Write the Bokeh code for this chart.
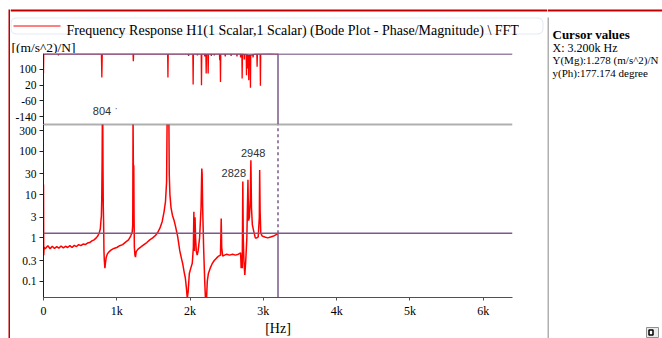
from bokeh.plotting import figure
from bokeh.models import (Range1d, FixedTicker, BasicTickFormatter, Span, Label,
                          BoxAnnotation)
from bokeh.layouts import row, column
from bokeh.embed import file_html
from bokeh.resources import INLINE

# ---------------- data ----------------
mag_freq = [0, 3, 8, 15, 30, 60, 90, 120, 150, 180, 210, 240, 270, 300, 330, 360, 390,
            420, 450, 480, 510, 540, 570, 600, 630, 660, 690, 720, 740, 760, 775, 785,
            790, 795, 800, 804, 808, 812, 816, 820, 825, 830, 838, 845, 855, 870, 890,
            920, 960, 1000, 1040, 1080, 1120, 1160, 1190, 1210, 1218, 1222, 1226, 1232,
            1236, 1240, 1248, 1255, 1265, 1290, 1330, 1370, 1410, 1450, 1490, 1530, 1560,
            1590, 1620, 1645, 1665, 1680, 1688, 1710, 1716, 1725, 1740, 1760, 1780, 1800,
            1830, 1860, 1880, 1900, 1920, 1935, 1950, 1962, 1975, 1990, 2010, 2030, 2045,
            2052, 2058, 2068, 2075, 2085, 2097, 2110, 2130, 2150, 2160, 2165, 2172, 2185,
            2200, 2210, 2225, 2235, 2250, 2275, 2300, 2330, 2360, 2390, 2415, 2425, 2432,
            2445, 2470, 2500, 2540, 2580, 2620, 2660, 2690, 2697, 2705, 2712, 2720, 2726,
            2735, 2747, 2760, 2775, 2790, 2798, 2810, 2822, 2830, 2838, 2850, 2870, 2890,
            2910, 2930, 2945, 2950, 2956, 2965, 2985, 3020, 3060, 3100, 3140, 3180, 3200]
mag_vals = [17, 0.40, 0.62, 0.56, 0.58, 0.66, 0.56, 0.64, 0.57, 0.63, 0.58, 0.65, 0.59,
            0.64, 0.60, 0.66, 0.60, 0.67, 0.63, 0.70, 0.66, 0.72, 0.70, 0.76, 0.78, 0.85,
            0.90, 1.0, 1.1, 1.3, 1.6, 2.6, 3.2, 8, 60, 900, 900, 40, 5, 2.5, 0.5, 0.3, 0.2,
            0.26, 0.35, 0.42, 0.47, 0.52, 0.57, 0.60, 0.66, 0.70, 0.80, 0.90, 1.1, 1.35, 2,
            600, 50, 45, 3, 0.6, 0.4, 0.36, 0.48, 0.55, 0.62, 0.70, 0.78, 0.90, 1.0, 1.15,
            1.35, 1.7, 2.4, 4, 7, 20, 900, 900, 30, 10, 5, 3.3, 2.6, 1.9, 1.1, 0.5, 0.35,
            0.25, 0.16, 0.12, 0.07, 0.04, 0.06, 0.15, 0.2, 0.26, 0.6, 4, 0.5, 3, 1, 0.5,
            0.4, 0.5, 1.0, 5, 40, 30, 5, 0.6, 0.1, 0.04, 0.04, 0.1, 0.15, 0.2, 0.25, 0.3,
            0.34, 0.38, 0.4, 2.8, 0.6, 0.38, 0.4, 0.42, 0.4, 0.42, 0.4, 0.42, 0.45, 0.2,
            0.4, 0.2, 20, 1, 0.3, 0.14, 0.3, 1, 22, 2.5, 3, 8, 62, 5, 2, 1.4, 1.0, 1.0,
            1.05, 3, 37, 4, 1.3, 1.1, 1.05, 1.0, 1.05, 1.1, 1.2, 1.278]

phase_freq = [0, 3, 40,
              200, 205, 210, 790, 796, 802, 1222, 1226, 1230, 1694, 1698, 1702,
              1975, 1980, 1985, 2038, 2042, 2046, 2096, 2100, 2104, 2152, 2156, 2160,
              2196, 2200, 2204, 2216, 2220, 2224, 2243, 2247, 2251, 2286, 2290, 2294,
              2326, 2330, 2334, 2401, 2405, 2409, 2411, 2415, 2419, 2476, 2480, 2484,
              2556, 2560, 2564, 2636, 2640, 2644, 2686, 2690, 2694, 2707, 2711, 2715,
              2736, 2740, 2744, 2766, 2770, 2774, 2783, 2787, 2791, 2797, 2801, 2805,
              2812, 2815, 2818, 2820, 2824, 2828, 2856, 2860, 2864, 2911, 2915, 2919,
              2956, 2960, 2964, 3100, 3200]
phase_vals = [80, 176, 178,
              178, 170, 178, 178, 58, 178, 178, 141, 178, 178, 58, 178,
              178, 168, 178, 178, 23, 178, 178, 170, 178, 178, 19, 178,
              178, 165, 178, 178, 79, 178, 178, 79, 178, 178, 168, 178,
              178, 170, 178, 178, 146, 178, 178, 36, 178, 178, 165, 178,
              178, 168, 178, 178, 165, 178, 178, 160, 178, 178, 53, 178,
              176, 150, 176, 176, 70, 172, 175, 104, 170, 172, 45, 168,
              170, 150, 172, 172, 6, 170, 175, 160, 176, 178, 113, 178,
              178, 16, 178, 179, 177.2]

cursor_x = 3200
cursor_mag = 1.278
cursor_phase = 177.174

x_ticks = [0, 1000, 2000, 3000, 4000, 5000, 6000]
x_tick_labels = ["0", "1k", "2k", "3k", "4k", "5k", "6k"]
mag_ticks = [0.1, 0.3, 1, 3, 10, 30, 100, 300]
mag_tick_labels = ["0.1", "0.3", "1", "3", "10", "30", "100", "300"]
phase_ticks = [100, 20, -60, -140]
phase_tick_labels = ["100", "20", "-60", "-140"]

peak_texts = ["2828", "2948"]
peak_text_x = [2597, 2862]
peak_text_y = [31.4, 93]
phase_peak_text = "804"

legend_text = "Frequency Response H1(1 Scalar,1 Scalar) (Bode Plot - Phase/Magnitude) \\ FFT"
unit_text = "[(m/s^2)/N]"
x_unit_text = "[Hz]"
cursor_lines = ["Cursor values", "X: 3.200k Hz", "Y(Mg):1.278 (m/s^2)/N",
                "y(Ph):177.174 degree"]

# ---------------- styles ----------------
SERIF = "Liberation Serif"
SANS = "Liberation Sans"
RED = "#ff0000"
CUR = "#7a5a8a"
BORDER_RED = "#c00000"
AX = "#202020"
SEP = "#606060"

X_LO, X_HI = 0, 6400
M_LO, M_HI = 0.042, 415
W_L = 537      # width of the plot column
H_TOP = 53     # legend strip height
H_PH = 71      # phase plot height
H_MG = 214     # magnitude plot height (incl. x axis)
W_R = 115      # cursor panel width
W_S = 10       # left border strip width
H_ALL = H_TOP + H_PH + H_MG


def no_align(f):
    try:
        f.frame_align = False
    except Exception:
        pass


def chrome_fig(w, h):
    f = figure(width=w, height=h, x_range=Range1d(0, w), y_range=Range1d(h, 0),
               output_backend="svg", toolbar_location=None, min_border=0,
               x_axis_location=None, y_axis_location=None)
    f.grid.visible = False
    f.outline_line_color = None
    no_align(f)
    return f


def style_axis(ax, size="12px"):
    ax.major_label_text_font = SERIF
    ax.major_label_text_font_size = size
    ax.major_label_text_color = "black"
    ax.axis_line_color = AX
    ax.major_tick_line_color = AX
    ax.major_tick_in = 0
    ax.minor_tick_in = 0
    ax.minor_tick_out = 0


# ---------------- left border strip ----------------
sf = chrome_fig(W_S, H_ALL)
sf.quad(left=[8], right=[10], top=[9], bottom=[H_ALL], fill_color=BORDER_RED, line_alpha=0)

# ---------------- top strip: legend + unit ----------------
tf = chrome_fig(W_L, H_TOP)
tf.quad(left=[0], right=[W_L], top=[9], bottom=[11], fill_color=BORDER_RED, line_alpha=0)
box_kw = dict(left=0.5, right=532.5, top=17.5, bottom=33.5, fill_color="white", fill_alpha=1,
              line_color="#9fb4cf", line_width=1, level="underlay")
try:
    legend_box = BoxAnnotation(border_radius=5, **box_kw)
except Exception:
    legend_box = BoxAnnotation(**box_kw)
tf.add_layout(legend_box)
tf.segment(x0=[3], y0=[25.5], x1=[50], y1=[25.5], line_color=RED, line_width=1.2)
tf.add_layout(Label(x=56, y=30, text=legend_text, text_font=SERIF, text_font_size="14px",
                    text_color="black", text_align="left", text_baseline="alphabetic"))
tf.add_layout(Label(x=1, y=46.5, text=unit_text, text_font=SERIF, text_font_size="13.5px",
                    text_color="black", text_align="left", text_baseline="alphabetic"))

# ---------------- phase plot ----------------
pf = figure(width=W_L, height=H_PH, x_range=Range1d(X_LO, X_HI), y_range=Range1d(-180, 180),
            output_backend="svg", toolbar_location=None, x_axis_location=None,
            min_border_left=33, min_border_right=35, min_border_top=0, min_border_bottom=0)
pf.grid.visible = False
pf.outline_line_color = None
pf.yaxis.ticker = FixedTicker(ticks=phase_ticks)
pf.yaxis.major_label_overrides = dict(zip(phase_ticks, phase_tick_labels))
style_axis(pf.yaxis[0], "11.5px")
pf.yaxis.major_tick_out = 4
pf.yaxis.major_label_standoff = 3

pf.add_layout(Span(location=cursor_phase, dimension="width", line_color=CUR, line_width=1.5))
pf.add_layout(Span(location=cursor_x, dimension="height", line_color=CUR, line_width=1.5))
pf.add_layout(Span(location=-180, dimension="width", line_color=SEP, line_width=1.5))
pf.line(phase_freq, phase_vals, line_color=RED, line_width=1.3)

pf.add_layout(Label(x=798, y=-114, text=phase_peak_text, text_font=SANS, text_font_size="11px",
                    text_color="#303030", text_align="center", text_baseline="middle"))
pf.add_layout(Label(x=990, y=-100, text="\u00b7", text_font=SANS, text_font_size="10px",
                    text_color="#606060", text_align="center", text_baseline="middle"))

# ---------------- magnitude plot ----------------
mf = figure(width=W_L, height=H_MG, x_range=pf.x_range, y_range=Range1d(M_LO, M_HI),
            y_axis_type="log", output_backend="svg", toolbar_location=None,
            min_border_left=33, min_border_right=35, min_border_top=0, min_border_bottom=37)
mf.grid.visible = False
mf.outline_line_color = None
mf.yaxis.ticker = FixedTicker(ticks=mag_ticks)
mf.yaxis.formatter = BasicTickFormatter()
mf.yaxis.major_label_overrides = dict(zip(mag_ticks, mag_tick_labels))
style_axis(mf.yaxis[0], "11.5px")
mf.yaxis.major_tick_out = 4
mf.yaxis.major_label_standoff = 3
mf.xaxis.ticker = FixedTicker(ticks=x_ticks)
mf.xaxis.major_label_overrides = dict(zip(x_ticks, x_tick_labels))
style_axis(mf.xaxis[0])
mf.xaxis.axis_line_color = "#505050"
mf.xaxis.major_tick_line_color = "#505050"
mf.xaxis.major_tick_out = 3
mf.xaxis.major_label_standoff = 3
mf.xaxis.axis_label = x_unit_text
mf.xaxis.axis_label_standoff = 0
mf.xaxis.axis_label_text_font = SERIF
mf.xaxis.axis_label_text_font_size = "14px"
mf.xaxis.axis_label_text_font_style = "normal"
mf.xaxis.axis_label_text_color = "black"

mf.add_layout(Span(location=M_HI, dimension="width", line_color=SEP, line_width=1.5))
mf.add_layout(Span(location=cursor_mag, dimension="width", line_color=CUR, line_width=1.5))
mf.segment(x0=[cursor_x], y0=[M_LO], x1=[cursor_x], y1=[cursor_mag], line_color=CUR,
           line_width=1.5)
mf.segment(x0=[cursor_x], y0=[cursor_mag], x1=[cursor_x], y1=[M_HI], line_color=CUR,
           line_width=1.5, line_dash="3 3")
mf.line(mag_freq, mag_vals, line_color=RED, line_width=1.5)

for t, xx, yy in zip(peak_texts, peak_text_x, peak_text_y):
    mf.add_layout(Label(x=xx, y=yy, text=t, text_font=SANS, text_font_size="11px",
                        text_color="#303030", text_align="center", text_baseline="middle"))

# ---------------- right (cursor values) panel ----------------
rf = chrome_fig(W_R, H_ALL)
rf.quad(left=[0], right=[W_R], top=[9], bottom=[11], fill_color=BORDER_RED, line_alpha=0)
rf.quad(left=[-0.5], right=[1.5], top=[17], bottom=[H_ALL], fill_color="#b0b0b0", line_alpha=0)
rf.quad(left=[99], right=[111], top=[327], bottom=[337], fill_color="#ececec",
        line_color="#909090")
rf.quad(left=[101.5], right=[105.5], top=[329.5], bottom=[334.5], fill_color="white",
        line_color="black", line_width=1.5)
base_y = [33.5, 47.3, 59.8, 72]
sizes = ["13px", "12px", "11px", "11px"]
for i, (txt, yy, sz) in enumerate(zip(cursor_lines, base_y, sizes)):
    rf.add_layout(Label(x=5, y=yy, text=txt, text_font=SERIF, text_font_size=sz,
                        text_font_style="bold" if i == 0 else "normal", text_color="black",
                        text_align="left", text_baseline="alphabetic"))

layout = row(sf, column(tf, pf, mf), rf)
open("out.html", "w").write(file_html(layout, INLINE))
